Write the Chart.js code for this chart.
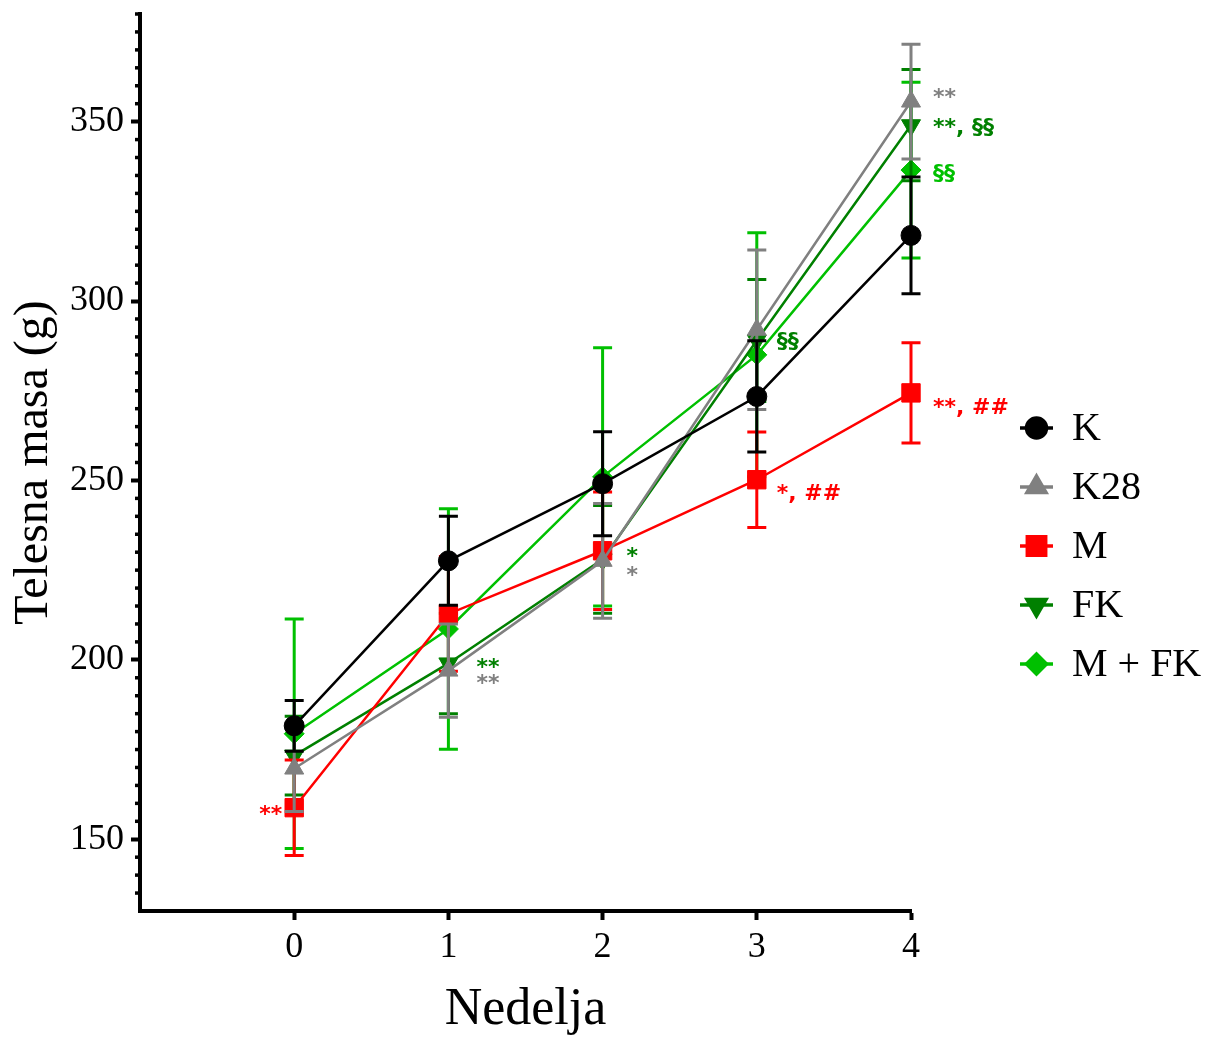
<!DOCTYPE html>
<html>
<head>
<meta charset="utf-8">
<script src="https://cdn.jsdelivr.net/npm/chart.js@4/dist/chart.umd.min.js"></script>
<style>
  html, body { margin: 0; padding: 0; background: #fff; }
  #wrap { width: 1207px; height: 1039px; }
</style>
</head>
<body>
<div id="wrap"><canvas id="massChart" width="1207" height="1039"></canvas></div>
<script>
// weeks on the x axis
const weeks = [0, 1, 2, 3, 4];
const yTickValues = [150, 200, 250, 300, 350];

// mean body mass (g) and SD for each group
const kMean = [181.6, 227.6, 249.1, 273.4, 318.3];
const kSd = [7.1, 12.4, 14.5, 15.5, 16.3];
const k28Mean = [169.7, 197.0, 227.6, 292.0, 355.6];
const k28Sd = [12.0, 13.0, 16.0, 22.2, 16.0];
const mMean = [158.8, 212.8, 230.4, 250.2, 274.4];
const mSd = [13.3, 16.0, 16.4, 13.3, 14.0];
const fkMean = [173.3, 199.0, 228.0, 289.0, 349.0];
const fkSd = [11.0, 14.0, 15.0, 17.0, 15.5];
const mfkMean = [179.4, 208.6, 251.0, 285.0, 336.5];
const mfkSd = [32.0, 33.5, 36.0, 34.0, 24.5];

// significance marks next to the points
const kSig = ['', '', '', '', ''];
const k28Sig = ['', '**', '*', '', '**'];
const mSig = ['**', '', '', '*, ##', '**, ##'];
const fkSig = ['', '**', '*', '§§', '**, §§'];
const mfkSig = ['', '', '', '', '§§'];

const groupNames = ['K', 'K28', 'M', 'FK', 'M + FK'];

function pts(means) {
    return weeks.map((w, i) => ({ x: w, y: means[i] }));
}

function series(label, means, sd, sig, color, style, radius, rotation) {
    return {
        label: label,
        data: pts(means),
        sd: sd,
        sig: sig,
        borderColor: color,
        backgroundColor: color,
        borderWidth: 2.5,
        pointStyle: style,
        pointRadius: radius,
        pointHoverRadius: radius,
        pointRotation: rotation || 0,
        pointBorderWidth: 1,
        pointBackgroundColor: color,
        pointBorderColor: color,
        tension: 0,
        clip: false
    };
}

const datasets = [
    series(groupNames[0], kMean, kSd, kSig, '#000000', 'circle', 10),
    series(groupNames[1], k28Mean, k28Sd, k28Sig, '#808080', 'triangle', 11),
    series(groupNames[2], mMean, mSd, mSig, '#ff0000', 'rect', 13),
    series(groupNames[3], fkMean, fkSd, fkSig, '#008000', 'triangle', 11, 180),
    series(groupNames[4], mfkMean, mfkSd, mfkSig, '#00c000', 'rectRot', 10)
];

// where each significance text sits relative to its point: [dx, dy, align]
const sigOffsets = {
    'K28': { 1: [28, 19], 2: [24, 21], 4: [22, 2] },
    'M': { 0: [-12, 13, 'right'], 3: [20, 20], 4: [22, 21] },
    'FK': { 1: [28, 11], 2: [24, 4], 3: [20, 7], 4: [22, 9] },
    'M + FK': { 4: [22, 10] }
};

// error bars are drawn per dataset just before the dataset itself
const errorBars = {
    id: 'errorBars',
    beforeDatasetDraw(chart, args) {
        const ds = chart.data.datasets[args.index];
        const yScale = chart.scales.y;
        const ctx = chart.ctx;
        ctx.save();
        ctx.strokeStyle = ds.borderColor;
        ctx.lineWidth = 3;
        args.meta.data.forEach((pt, i) => {
            const m = ds.data[i].y;
            const top = yScale.getPixelForValue(m + ds.sd[i]);
            const bot = yScale.getPixelForValue(m - ds.sd[i]);
            ctx.beginPath();
            ctx.moveTo(pt.x, top);
            ctx.lineTo(pt.x, bot);
            ctx.moveTo(pt.x - 9.5, top);
            ctx.lineTo(pt.x + 9.5, top);
            ctx.moveTo(pt.x - 9.5, bot);
            ctx.lineTo(pt.x + 9.5, bot);
            ctx.stroke();
        });
        ctx.restore();
    }
};

// minor ticks on y, significance text and the legend
const extras = {
    id: 'extras',
    afterDraw(chart) {
        const ctx = chart.ctx;
        const yScale = chart.scales.y;
        const left = chart.chartArea.left;

        ctx.save();
        ctx.strokeStyle = '#000';
        ctx.lineWidth = 3.5;
        for (let v = yScale.min + 5; v <= yScale.max; v += 5) {
            if (v % 50 === 0) continue;
            const py = yScale.getPixelForValue(v);
            ctx.beginPath();
            ctx.moveTo(left - 5, py);
            ctx.lineTo(left, py);
            ctx.stroke();
        }

        ctx.font = 'bold 22px "DejaVu Sans", sans-serif';
        chart.data.datasets.forEach((ds, di) => {
            const meta = chart.getDatasetMeta(di);
            const offs = sigOffsets[ds.label] || {};
            ds.sig.forEach((txt, i) => {
                if (!txt) return;
                const o = offs[i] || [22, 8];
                const pt = meta.data[i];
                ctx.fillStyle = ds.borderColor;
                ctx.textAlign = o[2] || 'left';
                ctx.textBaseline = 'alphabetic';
                ctx.fillText(txt, pt.x + o[0], pt.y + o[1]);
            });
        });

        // legend
        const lx = 1020, lw = 33, tx = 1072;
        let ly = 428;
        chart.data.datasets.forEach(ds => {
            ctx.strokeStyle = ds.borderColor;
            ctx.lineWidth = 3.5;
            ctx.beginPath();
            ctx.moveTo(lx, ly);
            ctx.lineTo(lx + lw, ly);
            ctx.stroke();
            ctx.fillStyle = ds.borderColor;
            Chart.helpers.drawPoint(ctx, {
                pointStyle: ds.pointStyle,
                radius: ds.pointRadius,
                rotation: ds.pointRotation,
                borderWidth: 1
            }, lx + lw / 2, ly);
            ctx.fillStyle = '#000';
            ctx.font = '40px "Liberation Serif", "Times New Roman", serif';
            ctx.textAlign = 'left';
            ctx.textBaseline = 'middle';
            ctx.fillText(ds.label, tx, ly + 1);
            ly += 59;
        });
        ctx.restore();
    }
};

const serif = '"Liberation Serif", "Times New Roman", serif';

new Chart(document.getElementById('massChart').getContext('2d'), {
    type: 'line',
    data: { datasets: datasets },
    options: {
        responsive: false,
        animation: false,
        events: [],
        layout: { padding: { top: 13, right: 296, left: 0, bottom: 0 } },
        plugins: {
            legend: { display: false },
            tooltip: { enabled: false }
        },
        scales: {
            x: {
                type: 'linear',
                min: -1,
                max: 4,
                afterBuildTicks: scale => { scale.ticks = weeks.map(v => ({ value: v })); },
                afterFit: scale => {
                    scale.height = 128;
                    scale.paddingLeft = 0;
                    scale.paddingRight = 0;
                },
                ticks: { color: '#000', font: { family: serif, size: 36 }, padding: 6 },
                grid: { display: true, drawOnChartArea: false, tickLength: 9, tickWidth: 4, tickColor: '#000' },
                border: { display: true, width: 4, color: '#000' },
                title: { display: true, text: 'Nedelja', color: '#000', font: { family: serif, size: 52, lineHeight: 1.1 }, padding: { top: 0, bottom: 0 } }
            },
            y: {
                min: 130,
                max: 380,
                afterBuildTicks: scale => { scale.ticks = yTickValues.map(v => ({ value: v })); },
                afterFit: scale => {
                    scale.width = 140;
                    scale.paddingTop = 0;
                    scale.paddingBottom = 0;
                },
                ticks: { color: '#000', font: { family: serif, size: 36 }, padding: 7 },
                grid: { display: true, drawOnChartArea: false, tickLength: 9, tickWidth: 4, tickColor: '#000' },
                border: { display: true, width: 4, color: '#000' },
                title: { display: true, text: 'Telesna masa (g)', color: '#000', font: { family: serif, size: 48 }, padding: { top: 6, bottom: 0 } }
            }
        }
    },
    plugins: [errorBars, extras]
});
</script>
</body>
</html>
